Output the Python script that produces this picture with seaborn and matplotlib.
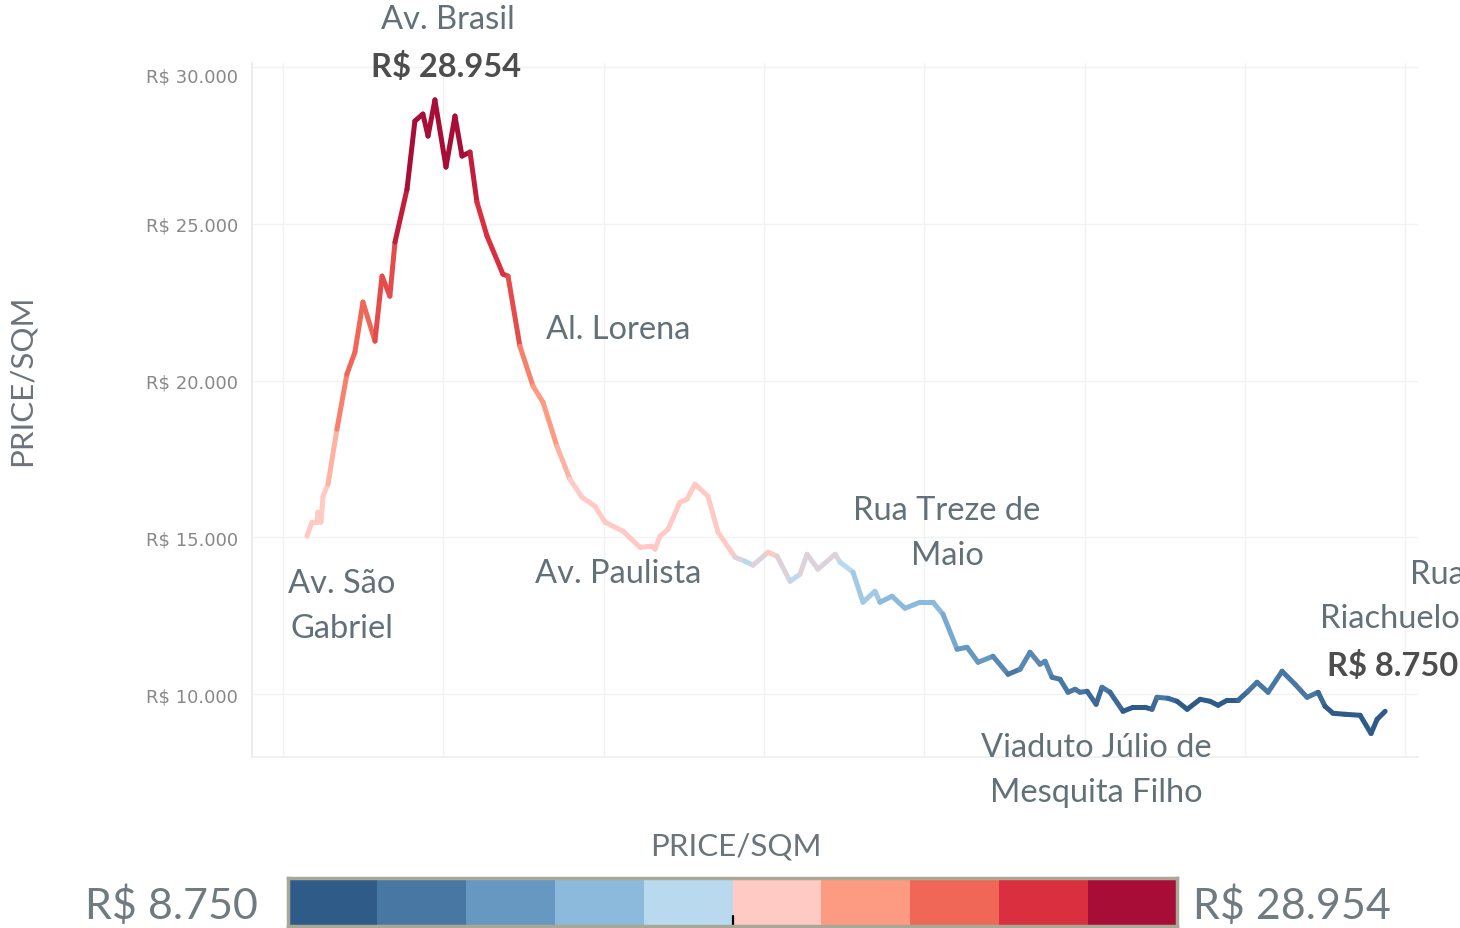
import matplotlib
matplotlib.use('Agg')
import matplotlib.pyplot as plt
from matplotlib.collections import LineCollection
from matplotlib.colors import ListedColormap, BoundaryNorm, to_rgba_array
import numpy as np
import pandas as pd
import seaborn as sns

# position along the route (arbitrary units, gridline every 10)
position = [1.50, 1.81, 2.12, 2.18, 2.37, 2.50, 2.81, 3.37, 3.99, 4.49,
            4.99, 5.74, 6.18, 6.67, 6.99, 7.74, 8.23, 8.73, 9.05, 9.48,
            10.17, 10.73, 11.17, 11.67, 12.10, 12.73, 13.72, 14.04, 14.78, 15.60,
            16.22, 17.09, 17.90, 18.65, 19.46, 20.09, 21.21, 22.27, 23.02, 23.21,
            23.52, 24.02, 24.77, 25.20, 25.70, 26.51, 27.14, 28.20, 28.82, 29.32,
            30.26, 30.82, 31.63, 32.25, 32.69, 33.37, 34.44, 34.75, 35.56, 36.18,
            36.93, 37.24, 37.99, 38.80, 39.74, 40.55, 41.17, 42.05, 42.67, 43.36,
            44.29, 45.23, 45.98, 46.60, 47.22, 47.54, 47.97, 48.47, 48.97, 49.41,
            49.72, 50.16, 50.72, 51.09, 51.59, 52.40, 53.03, 53.77, 54.21, 54.52,
            55.21, 55.77, 56.40, 57.21, 57.83, 58.33, 58.89, 59.58, 60.20, 60.76,
            61.45, 62.32, 63.13, 63.88, 64.57, 65.00, 65.50, 66.25, 67.19, 67.87,
            68.25, 68.75]

# price per square meter (R$)
price = [15040, 15487, 15487, 15806, 15487, 16316, 16699, 18454, 20208, 20910,
         22505, 21261, 23334, 22696, 24419, 26110, 28279, 28502, 27800, 28954,
         26811, 28438, 27162, 27290, 25695, 24610, 23398, 23334, 21101, 19825,
         19315, 17911, 16859, 16284, 15997, 15487, 15200, 14689, 14721, 14626,
         15040, 15264, 16125, 16221, 16699, 16316, 15168, 14370, 14243, 14115,
         14530, 14402, 13605, 13828, 14466, 13988, 14466, 14211, 13892, 12935,
         13286, 12935, 13126, 12743, 12935, 12935, 12552, 11436, 11499, 11021,
         11212, 10638, 10798, 11340, 10957, 11053, 10542, 10479, 10064, 10160,
         10064, 10096, 9681, 10223, 10064, 9458, 9585, 9585, 9521, 9904,
         9872, 9777, 9521, 9840, 9777, 9649, 9809, 9809, 10096, 10383,
         10064, 10734, 10319, 9904, 10064, 9617, 9394, 9362, 9330, 8750,
         9202, 9458]

price_min = 8750
price_max = 28954
price_center = 14350

legend_colors = ['#2E5B88', '#4977A4', '#6798C1', '#8CBADC', '#B9D9EE',
                 '#FECAC3', '#FD9A82', '#F16757', '#DA2F3E', '#A80D37']

y_ticks = [10000, 15000, 20000, 25000, 30000]
y_tick_labels = ['R$ 10.000', 'R$ 15.000', 'R$ 20.000', 'R$ 25.000', 'R$ 30.000']

# street labels: text, x px, y px, weight, alignment
notes = [
    ('Av. Brasil', 448, 20, 'normal', 'center'),
    ('R$ 28.954', 446, 67, 'bold', 'center'),
    ('Al. Lorena', 618, 330, 'normal', 'center'),
    ('Av. Paulista', 618, 574, 'normal', 'center'),
    ('Av. São', 342, 584, 'normal', 'center'),
    ('Gabriel', 342, 629, 'normal', 'center'),
    ('Rua Treze de', 947, 511, 'normal', 'center'),
    ('Maio', 947, 556, 'normal', 'center'),
    ('Viaduto Júlio de', 1096, 748, 'normal', 'center'),
    ('Mesquita Filho', 1096, 793, 'normal', 'center'),
    ('Rua', 1410, 575, 'normal', 'left'),
    ('Riachuelo', 1320, 619, 'normal', 'left'),
    ('R$ 8.750', 1327, 666, 'bold', 'left'),
]

W, H = 1460, 929
df = pd.DataFrame({'position': position, 'price': price})

sns.set_theme(style='white')
plt.rcParams['font.family'] = ['Lato', 'DejaVu Sans']

fig = plt.figure(figsize=(W / 100, H / 100), dpi=100)
ax = fig.add_axes([252 / W, 1 - 758 / H, (1418 - 252) / W, (758 - 64) / H])

sns.lineplot(data=df, x='position', y='price', ax=ax, estimator=None, sort=False, color='#999999')
base = ax.lines[0]
xy = base.get_xydata()
base.set_visible(False)

# stepped diverging scale: 5 blue steps below the centre, 5 red steps above
bounds = np.concatenate([np.linspace(price_min, price_center, 6),
                         np.linspace(price_center, price_max, 6)[1:]])
bounds[0] -= 1
bounds[-1] += 1
norm = BoundaryNorm(bounds, 10)
cmap = ListedColormap(legend_colors)
pt_cols = cmap(norm(xy[:, 1]))
seg_cols = (pt_cols[:-1] + pt_cols[1:]) / 2
segs = np.stack([xy[:-1], xy[1:]], axis=1)
lc = LineCollection(segs, colors=seg_cols, linewidths=3.6, capstyle='round', joinstyle='round', zorder=3)
ax.add_collection(lc)

ax.set_xlim(-1.93, 70.8)
ax.set_ylim(8000, 30130)
ax.set_xticks(range(0, 71, 10))
ax.set_xticklabels([])
ax.set_yticks(y_ticks)
ax.set_yticklabels(y_tick_labels, family='DejaVu Sans', fontsize=13, color='#888888')
ax.get_yticklabels()[-1].set_va('top')
ax.tick_params(axis='y', length=0, pad=10)
ax.tick_params(axis='x', length=6, color='#EFEFEF', width=1, direction='out')
ax.grid(True, color='#F2F2F2', lw=1)
ax.set_xlabel('')
ax.set_ylabel('')
for s in ['top', 'right']:
    ax.spines[s].set_visible(False)
ax.spines['left'].set_color('#E8E8E8')
ax.spines['bottom'].set_color('#EFEFEF')

fig.text(22 / W, 1 - 380 / H, 'PRICE/SQM', rotation=90, ha='center', va='center',
         fontsize=22.5, color='#6A747A')

for txt, px, py, wt, ha in notes:
    fig.text(px / W, 1 - py / H, txt, ha=ha, va='center', fontsize=23.5,
             fontweight=wt, color='#4D4D4D' if wt == 'bold' else '#627077')

# colour legend
lax = fig.add_axes([288 / W, 2 / H, 889 / W, 48 / H])
sns.heatmap(np.arange(10).reshape(1, 10), cmap=ListedColormap(legend_colors), cbar=False,
            ax=lax, xticklabels=False, yticklabels=False)
for s in lax.spines.values():
    s.set_visible(True)
    s.set_color('#ABA797')
    s.set_linewidth(2.5)
lax.plot([5, 5], [0.8, 1.15], color='black', lw=1.6, clip_on=False)

fig.text(736 / W, 1 - 847 / H, 'PRICE/SQM', ha='center', va='center', fontsize=22.5, color='#6A747A')
fig.text(258 / W, 1 - 906 / H, 'R$ 8.750', ha='right', va='center', fontsize=31,
         color='#707B81')
fig.text(1193 / W, 1 - 906 / H, 'R$ 28.954', ha='left', va='center', fontsize=31,
         color='#707B81')

fig.savefig('out.png', dpi=100)
